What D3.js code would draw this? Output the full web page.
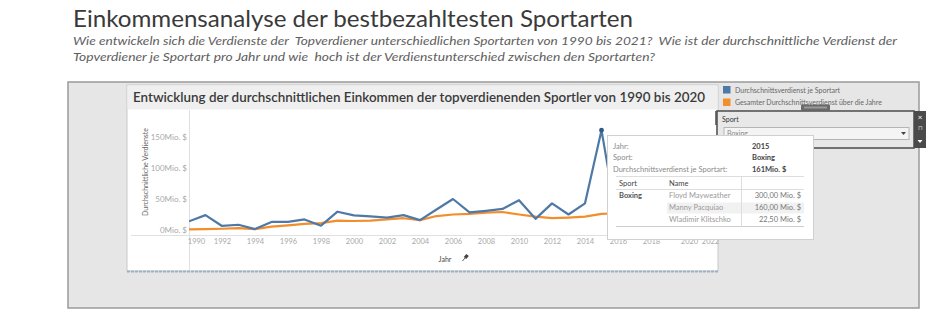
<!DOCTYPE html>
<html><head><meta charset="utf-8">
<script src="https://cdn.jsdelivr.net/npm/d3@7"></script>
<style>
html,body{margin:0;padding:0;background:#fff;}
svg{display:block;font-family:Lato,"Open Sans",sans-serif;}
text{white-space:pre;}
</style></head>
<body>
<svg id="chart" width="945" height="324"></svg>
<script>
// ---------- data ----------
const years = [1990,1991,1992,1993,1994,1995,1996,1997,1998,1999,2000,2001,2002,2003,2004,2005,2006,2007,2008,2009,2010,2011,2012,2013,2014,2015,2016,2017,2018,2019,2020];
const avgPerSport = [14,24,6.5,8.5,1.5,13,13,17,7,29.5,23.5,22,20,24,16,33,50,28.5,31,34,48,18,43,25,43,161,5,40,45,50,55];
const avgOverall  = [1,1.5,2,3,1.5,5.5,7.5,10,11,15,14.5,15,17,19,16,22.5,25,26,28,29,25,21.5,19,20,21.5,26,27,28,28,29,30];
const yTicks = [0,50,100,150];
const xTicks = [1990,1992,1994,1996,1998,2000,2002,2004,2006,2008,2010,2012,2014,2016,2018,2020,2022];
const seriesNames = ["Durchschnittsverdienst je Sportart","Gesamter Durchschnittsverdienst über die Jahre"];
const colors = ["#4e79a7","#f28e2b"];
const tipLabels = ["Jahr:","Sport:","Durchschnittsverdienst je Sportart:"];
const tipValues = ["2015","Boxing","161Mio. $"];
const athleteNames = ["Floyd Mayweather","Manny Pacquiao","Wladimir Klitschko"];
const athleteEarnings = ["300,00 Mio. $","160,00 Mio. $","22,50 Mio. $"];

const svg = d3.select("#chart");

// ---------- header ----------
svg.append("text").attr("x",73).attr("y",27).attr("font-size",23).attr("fill","#3a3a3a")
  .attr("textLength",560).attr("lengthAdjust","spacingAndGlyphs")
  .text("Einkommensanalyse der bestbezahltesten Sportarten");
svg.append("text").attr("x",73).attr("y",45).attr("font-size",10.5).attr("font-style","italic").attr("fill","#5e5e5e")
  .attr("textLength",824).attr("lengthAdjust","spacingAndGlyphs")
  .text("Wie entwickeln sich die Verdienste der  Topverdiener unterschiedlichen Sportarten von 1990 bis 2021?  Wie ist der durchschnittliche Verdienst der");
svg.append("text").attr("x",73).attr("y",61).attr("font-size",10.5).attr("font-style","italic").attr("fill","#5e5e5e")
  .attr("textLength",582).attr("lengthAdjust","spacingAndGlyphs")
  .text("Topverdiener je Sportart pro Jahr und wie  hoch ist der Verdienstunterschied zwischen den Sportarten?");

// ---------- dashboard panel ----------
svg.append("rect").attr("x",68).attr("y",82).attr("width",851).attr("height",226)
  .attr("fill","#e6e6e6").attr("stroke","#9a9a9a").attr("stroke-width",1.5);

// sheet
svg.append("rect").attr("x",127).attr("y",85).attr("width",591).attr("height",186).attr("fill","#fff").attr("stroke","#c8c8c8");
svg.append("rect").attr("x",127.5).attr("y",85.5).attr("width",590).attr("height",24).attr("fill","#efefef");
svg.append("line").attr("x1",127).attr("x2",718).attr("y1",271.5).attr("y2",271.5)
  .attr("stroke","#9fb0c4").attr("stroke-width",2).attr("stroke-dasharray","3,1");
svg.append("text").attr("x",133).attr("y",102).attr("font-size",12.5).attr("font-weight",600).attr("fill","#3a3a3a")
  .attr("textLength",572).attr("lengthAdjust","spacingAndGlyphs")
  .text("Entwicklung der durchschnittlichen Einkommen der topverdienenden Sportler von 1990 bis 2020");
svg.append("rect").attr("x",715).attr("y",111).attr("width",3).attr("height",14).attr("fill","#777");

// ---------- scales ----------
const x = d3.scaleLinear().domain([1990,2022]).range([189,717]);
const y = d3.scaleLinear().domain([0,150]).range([230,137]);

// grid lines / axes lines
svg.append("line").attr("x1",189.5).attr("x2",189.5).attr("y1",110).attr("y2",270).attr("stroke","#e0e0e0");
svg.append("line").attr("x1",131).attr("x2",717).attr("y1",235.5).attr("y2",235.5).attr("stroke","#e0e0e0");

// y axis
const yAxis = svg.append("g").attr("transform","translate(187,0)")
  .call(d3.axisLeft(y).tickValues(yTicks).tickSize(0).tickPadding(0).tickFormat(d=>d+"Mio. $"));
yAxis.select(".domain").remove();
yAxis.selectAll("text").attr("font-size",8).attr("fill","#a8a8a8").attr("font-family","Lato,sans-serif");
svg.append("text").attr("transform","translate(148,172) rotate(-90)").attr("text-anchor","middle")
  .attr("font-size",7).attr("fill","#666").text("Durchschnittliche Verdienste");

// x axis
const xAxis = svg.append("g").attr("transform","translate(0,239)")
  .call(d3.axisBottom(x).tickValues(xTicks).tickSize(0).tickPadding(0).tickFormat(d3.format("d")));
xAxis.select(".domain").remove();
xAxis.selectAll("text").attr("font-size",7.5).attr("fill","#a8a8a8").attr("font-family","Lato,sans-serif")
  .attr("dx",d=> d===1990 ? 7 : d===2020 ? 5 : d===2022 ? -7 : 0);
svg.append("text").attr("x",445).attr("y",262).attr("text-anchor","middle").attr("font-size",7).attr("fill","#444").text("Jahr");
const pin = svg.append("g").attr("transform","translate(465,258) rotate(40)");
pin.append("rect").attr("x",-1.6).attr("y",-4).attr("width",3.2).attr("height",4).attr("fill","#444");
pin.append("line").attr("x1",0).attr("x2",0).attr("y1",0).attr("y2",4).attr("stroke","#444").attr("stroke-width",0.8);

// ---------- lines ----------
svg.append("clipPath").attr("id","plotclip").append("rect")
  .attr("x",189).attr("y",110).attr("width",528).attr("height",160);
const line = d3.line().x((d,i)=>x(years[i])).y(d=>y(d));
const plot = svg.append("g").attr("clip-path","url(#plotclip)");
plot.append("path").datum(avgOverall).attr("d",line).attr("fill","none").attr("stroke",colors[1]).attr("stroke-width",2.2).attr("stroke-linejoin","round");
plot.append("path").datum(avgPerSport).attr("d",line).attr("fill","none").attr("stroke",colors[0]).attr("stroke-width",2.2).attr("stroke-linejoin","round");
const peakIdx = years.indexOf(2015);
plot.append("circle").attr("cx",x(2015)).attr("cy",y(avgPerSport[peakIdx])).attr("r",2.4).attr("fill","#2f5a86");

// ---------- legend ----------
seriesNames.forEach((n,i)=>{
  svg.append("rect").attr("x",723).attr("y",86+i*12.5).attr("width",7.5).attr("height",7.5).attr("fill",colors[i]);
  svg.append("text").attr("x",735).attr("y",92.5+i*12.5).attr("font-size",7).attr("fill","#666").text(n);
});
svg.append("rect").attr("x",801).attr("y",104.5).attr("width",29).attr("height",6).attr("fill","#6a6a6a").attr("rx",1);
svg.append("rect").attr("x",804).attr("y",106.5).attr("width",23).attr("height",2).attr("fill","#9a9a9a");

// ---------- filter ----------
svg.append("rect").attr("x",717).attr("y",111).attr("width",197).attr("height",37).attr("fill","#e8e8e8").attr("stroke","#555").attr("stroke-width",1.6);
svg.append("text").attr("x",722).attr("y",121.5).attr("font-size",7).attr("fill","#333").text("Sport");
svg.append("rect").attr("x",724).attr("y",127.5).attr("width",185).attr("height",12).attr("fill","#f4f4f4").attr("stroke","#b5b5b5");
svg.append("text").attr("x",727).attr("y",136).attr("font-size",7).attr("fill","#888").text("Boxing");
svg.append("path").attr("d","M901,132 L906,132 L903.5,135 Z").attr("fill","#444");
svg.append("rect").attr("x",914).attr("y",111).attr("width",12).attr("height",37).attr("fill","#4a4a4a");
svg.append("text").attr("x",920).attr("y",119.5).attr("text-anchor","middle").attr("font-size",8).attr("fill","#fff").text("×");
svg.append("text").attr("x",920).attr("y",129.5).attr("text-anchor","middle").attr("font-size",6).attr("fill","#ddd").text("⊓");
svg.append("path").attr("d","M917.5,140 L922.5,140 L920,143 Z").attr("fill","#fff");

// ---------- tooltip ----------
svg.append("rect").attr("x",607.5).attr("y",135.5).attr("width",206).attr("height",104).attr("fill","#fff").attr("stroke","#d0d0d0");
tipLabels.forEach((l,i)=>{
  svg.append("text").attr("x",613).attr("y",149+i*11.3).attr("font-size",7.5).attr("fill","#8a8a8a").text(l);
  svg.append("text").attr("x",752).attr("y",149+i*11.3).attr("font-size",7.5).attr("font-weight",700).attr("fill","#444").text(tipValues[i]);
});
svg.append("rect").attr("x",667).attr("y",202.5).attr("width",137).attr("height",11).attr("fill","#f1f1f1");
svg.append("line").attr("x1",616).attr("x2",804).attr("y1",176.5).attr("y2",176.5).attr("stroke","#ddd");
svg.append("line").attr("x1",616).attr("x2",804).attr("y1",189.5).attr("y2",189.5).attr("stroke","#ddd");
svg.append("line").attr("x1",616).attr("x2",804).attr("y1",226.5).attr("y2",226.5).attr("stroke","#ccc");
svg.append("line").attr("x1",741.5).attr("x2",741.5).attr("y1",176).attr("y2",227).attr("stroke","#ddd");
svg.append("text").attr("x",619).attr("y",186).attr("font-size",7.5).attr("fill","#444").text("Sport");
svg.append("text").attr("x",669).attr("y",186).attr("font-size",7.5).attr("fill","#444").text("Name");
svg.append("text").attr("x",619).attr("y",198).attr("font-size",7.5).attr("font-weight",700).attr("fill","#555").text("Boxing");
athleteNames.forEach((n,i)=>{
  svg.append("text").attr("x",669).attr("y",198+i*12).attr("font-size",7.5).attr("fill","#999").text(n);
  svg.append("text").attr("x",801).attr("y",198+i*12).attr("text-anchor","end").attr("font-size",7.5).attr("fill","#777").text(athleteEarnings[i]);
});
</script>
</body></html>
